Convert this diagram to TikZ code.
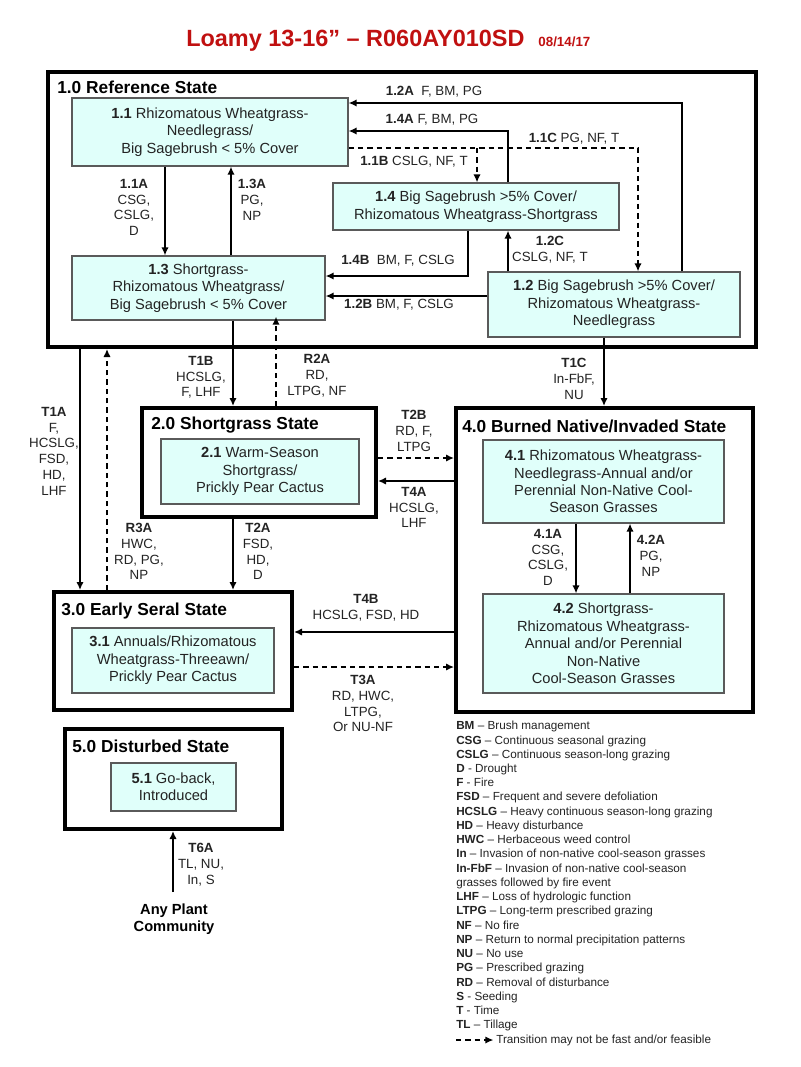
\documentclass[tikz,border=0pt]{standalone}
\usepackage{fontspec}
\setmainfont{Liberation Sans}
\usetikzlibrary{arrows.meta}

\definecolor{phasefill}{RGB}{224,255,250}
\definecolor{phaseline}{RGB}{90,90,90}
\definecolor{titlered}{RGB}{192,16,16}
\definecolor{inkgray}{RGB}{35,35,35}

\tikzset{
  statebox/.style={draw=black, line width=3pt, inner sep=0pt},
  phasebox/.style={draw=phaseline, line width=0.9pt, fill=phasefill, align=center, inner sep=0pt, text=inkgray, font=\fontsize{11}{13.1}\selectfont},
  statehead/.style={anchor=west, inner sep=0pt, font=\fontsize{13}{15}\selectfont\bfseries},
  trlabel/.style={align=center, inner sep=0pt, text=inkgray, font=\fontsize{10}{11.8}\selectfont},
  tr/.style={line width=1.1pt, -{Latex[length=6pt,width=5.5pt]}},
  trdash/.style={tr, dash pattern=on 4pt off 3pt},
}

\begin{document}
\begin{tikzpicture}[x=0.75pt,y=0.75pt,yscale=-1,xscale=1]
\useasboundingbox (0,0) rectangle (800,1067);

% Text Node
\node [anchor=base west, inner sep=0pt, text=titlered, font=\fontsize{17.6}{20}\selectfont\bfseries] (title) at (186,46) {Loamy 13-16” – R060AY010SD};
% Text Node
\node [anchor=base west, inner sep=0pt, text=titlered, font=\fontsize{10}{12}\selectfont\bfseries] (date) at ([xshift=10pt]title.base east) {08/14/17};

%Shape: Rectangle
\node [statebox, minimum width=531pt, minimum height=206.25pt] (s1) at (402,209.5) {};
\node [statebox, minimum width=175.5pt, minimum height=81.75pt] (s2) at (259,462.5) {};
\node [statebox, minimum width=178.5pt, minimum height=88.5pt] (s3) at (173,651) {};
\node [statebox, minimum width=222.75pt, minimum height=228pt] (s4) at (604.5,560) {};
\node [statebox, minimum width=162.75pt, minimum height=75pt] (s5) at (173.5,779) {};

% Text Node
\node [statehead] (h1) at (57,87) {1.0 Reference State};
\node [statehead] (h2) at (151,425) {2.0 Shortgrass State};
\node [statehead] (h3) at (61,611) {3.0 Early Seral State};
\node [statehead] (h4) at (462,426) {4.0 Burned Native/Invaded State};
\node [statehead] (h5) at (72,746) {5.0 Disturbed State};

%Shape: Rectangle
\node [phasebox, minimum width=207pt, minimum height=51pt] (p11) at (210,132) {\textbf{1.1} Rhizomatous Wheatgrass-\\Needlegrass/\\Big Sagebrush < 5\% Cover};
\node [phasebox, minimum width=189.75pt, minimum height=48pt] (p13) at (198.5,288) {\textbf{1.3} Shortgrass-\\Rhizomatous Wheatgrass/\\Big Sagebrush < 5\% Cover};
\node [phasebox, minimum width=214.5pt, minimum height=35.25pt] (p14) at (476,206.5) {\textbf{1.4} Big Sagebrush >5\% Cover/\\Rhizomatous Wheatgrass-Shortgrass};
\node [phasebox, minimum width=189pt, minimum height=48.75pt] (p12) at (614,304.5) {\textbf{1.2} Big Sagebrush >5\% Cover/\\Rhizomatous Wheatgrass-\\Needlegrass};
\node [phasebox, minimum width=148.5pt, minimum height=48.75pt] (p21) at (260,471.5) {\textbf{2.1} Warm-Season\\Shortgrass/\\Prickly Pear Cactus};
\node [phasebox, minimum width=180.75pt, minimum height=62.25pt] (p41) at (603.5,481.5) {\textbf{4.1} Rhizomatous Wheatgrass-\\Needlegrass-Annual and/or\\Perennial Non-Native Cool-\\Season Grasses};
\node [phasebox, minimum width=180.75pt, minimum height=74.25pt] (p42) at (603.5,643.5) {\textbf{4.2} Shortgrass-\\Rhizomatous Wheatgrass-\\Annual and/or Perennial\\Non-Native\\Cool-Season Grasses};
\node [phasebox, minimum width=151.5pt, minimum height=48.75pt] (p31) at (173,660.5) {\textbf{3.1} Annuals/Rhizomatous\\Wheatgrass-Threeawn/\\Prickly Pear Cactus};
\node [phasebox, minimum width=93.75pt, minimum height=36pt] (p51) at (173.5,787) {\textbf{5.1} Go-back,\\Introduced};

%Straight Lines
\coordinate (k12a) at (682,103);
\draw [tr] (k12a |- p12.north) |- (k12a -| p11.east);
\coordinate (k14a) at (508,131);
\draw [tr] (k14a |- p14.north) |- (k14a -| p11.east);
\coordinate (k11c) at (638,148);
\draw [trdash] (k11c -| p11.east) -| (k11c |- p12.north);
\coordinate (k11b) at (477,148);
\draw [trdash] (k11b) -- (k11b |- p14.north);
\coordinate (k11a) at (165,0);
\draw [tr] (k11a |- p11.south) -- (k11a |- p13.north);
\coordinate (k13a) at (231,0);
\draw [tr] (k13a |- p13.north) -- (k13a |- p11.south);
\coordinate (k14b) at (468,276);
\draw [tr] (k14b |- p14.south) |- (k14b -| p13.east);
\coordinate (k12b) at (0,296);
\draw [tr] (k12b -| p12.west) -- (k12b -| p13.east);
\coordinate (k12c) at (508,0);
\draw [tr] (k12c |- p12.north) -- (k12c |- p14.south);

%Straight Lines
\coordinate (kt1a) at (80,0);
\draw [tr] (kt1a |- s1.south) -- (kt1a |- s3.north);
\coordinate (kr3a) at (107,0);
\draw [trdash] (kr3a |- s3.north) -- (kr3a |- s1.south);
\coordinate (kt1b) at (233,0);
\draw [tr] (kt1b |- p13.south) -- (kt1b |- s2.north);
\coordinate (kr2a) at (276,0);
\draw [trdash] (kr2a |- s2.north) -- ([yshift=-3pt]kr2a |- p13.south);
\coordinate (kt1c) at (604,0);
\draw [tr] (kt1c |- p12.south) -- (kt1c |- s4.north);
\coordinate (kt2b) at (0,458);
\draw [trdash] (kt2b -| s2.east) -- (kt2b -| s4.west);
\coordinate (kt4a) at (0,481);
\draw [tr] (kt4a -| s4.west) -- (kt4a -| s2.east);
\coordinate (kt2a) at (233,0);
\draw [tr] (kt2a |- s2.south) -- (kt2a |- s3.north);
\coordinate (k41a) at (576,0);
\draw [tr] (k41a |- p41.south) -- (k41a |- p42.north);
\coordinate (k42a) at (630,0);
\draw [tr] (k42a |- p42.north) -- (k42a |- p41.south);
\coordinate (kt4b) at (0,632);
\draw [tr] (kt4b -| s4.west) -- (kt4b -| s3.east);
\coordinate (kt3a) at (0,667);
\draw [trdash] (kt3a -| s3.east) -- (kt3a -| s4.west);
\coordinate (kt6a) at (173,892);
\draw [tr] (kt6a) -- (kt6a |- s5.south);

% Text Node
\node [trlabel] (l12a) at (434,92) {\textbf{1.2A}~ F, BM, PG};
\node [trlabel] (l14a) at (432,120) {\textbf{1.4A} F, BM, PG};
\node [trlabel] (l11c) at (574,139) {\textbf{1.1C} PG, NF, T};
\node [trlabel] (l11b) at (414,162) {\textbf{1.1B} CSLG, NF, T};
\node [trlabel, anchor=north] (l11a) at (134,179) {\textbf{1.1A}\\CSG,\\CSLG,\\D};
\node [trlabel, anchor=north] (l13a) at (252,179) {\textbf{1.3A}\\PG,\\NP};
\node [trlabel] (l14b) at (398,261) {\textbf{1.4B}~ BM, F, CSLG};
\node [trlabel] (l12b) at (399,305) {\textbf{1.2B} BM, F, CSLG};
\node [trlabel, anchor=north] (l12c) at (550,236) {\textbf{1.2C}\\CSLG, NF, T};
% Text Node
\node [trlabel, anchor=north] (lt1a) at (54,407) {\textbf{T1A}\\F,\\HCSLG,\\FSD,\\HD,\\LHF};
\node [trlabel, anchor=north] (lr3a) at (139,523) {\textbf{R3A}\\HWC,\\RD, PG,\\NP};
\node [trlabel, anchor=north] (lt1b) at (201,356) {\textbf{T1B}\\HCSLG,\\F, LHF};
\node [trlabel, anchor=north] (lr2a) at (317,354) {\textbf{R2A}\\RD,\\LTPG, NF};
\node [trlabel, anchor=north] (lt1c) at (574,358) {\textbf{T1C}\\In-FbF,\\NU};
\node [trlabel, anchor=north] (lt2b) at (414,410) {\textbf{T2B}\\RD, F,\\LTPG};
\node [trlabel, anchor=north] (lt4a) at (414,487) {\textbf{T4A}\\HCSLG,\\LHF};
\node [trlabel, anchor=north] (lt2a) at (258,523) {\textbf{T2A}\\FSD,\\HD,\\D};
\node [trlabel, anchor=north] (l41a) at (548,529) {\textbf{4.1A}\\CSG,\\CSLG,\\D};
\node [trlabel, anchor=north] (l42a) at (651,535) {\textbf{4.2A}\\PG,\\NP};
\node [trlabel, anchor=north] (lt4b) at (366,594) {\textbf{T4B}\\HCSLG, FSD, HD};
\node [trlabel, anchor=north] (lt3a) at (363,675) {\textbf{T3A}\\RD, HWC,\\LTPG,\\Or NU-NF};
\node [trlabel, anchor=north] (lt6a) at (201,843) {\textbf{T6A}\\TL, NU,\\In, S};
% Text Node
\node [align=center, inner sep=0pt, font=\fontsize{11}{13}\selectfont\bfseries] (any) at (174,919) {Any Plant\\Community};

% Text Node
\node [anchor=north west, align=left, inner sep=0pt, text=inkgray, font=\fontsize{8.8}{10.68}\selectfont] (legend) at (456,721) {\textbf{BM} – Brush management\\
\textbf{CSG} – Continuous seasonal grazing\\
\textbf{CSLG} – Continuous season-long grazing\\
\textbf{D} - Drought\\
\textbf{F} - Fire\\
\textbf{FSD} – Frequent and severe defoliation\\
\textbf{HCSLG} – Heavy continuous season-long grazing\\
\textbf{HD} – Heavy disturbance\\
\textbf{HWC} – Herbaceous weed control\\
\textbf{In} – Invasion of non-native cool-season grasses\\
\textbf{In-FbF} – Invasion of non-native cool-season\\
grasses followed by fire event\\
\textbf{LHF} – Loss of hydrologic function\\
\textbf{LTPG} – Long-term prescribed grazing\\
\textbf{NF} – No fire\\
\textbf{NP} – Return to normal precipitation patterns\\
\textbf{NU} – No use\\
\textbf{PG} – Prescribed grazing\\
\textbf{RD} – Removal of disturbance\\
\textbf{S} - Seeding\\
\textbf{T} - Time\\
\textbf{TL} – Tillage};
% Text Node
\node [anchor=west, inner sep=0pt, text=inkgray, font=\fontsize{8.8}{10.68}\selectfont] (lgdash) at (496,1040) {Transition may not be fast and/or feasible};
\coordinate (klgd) at (456,1040);
\draw [trdash, line width=1pt] (klgd) -- ([xshift=-2pt]lgdash.west);

\end{tikzpicture}
\end{document}
